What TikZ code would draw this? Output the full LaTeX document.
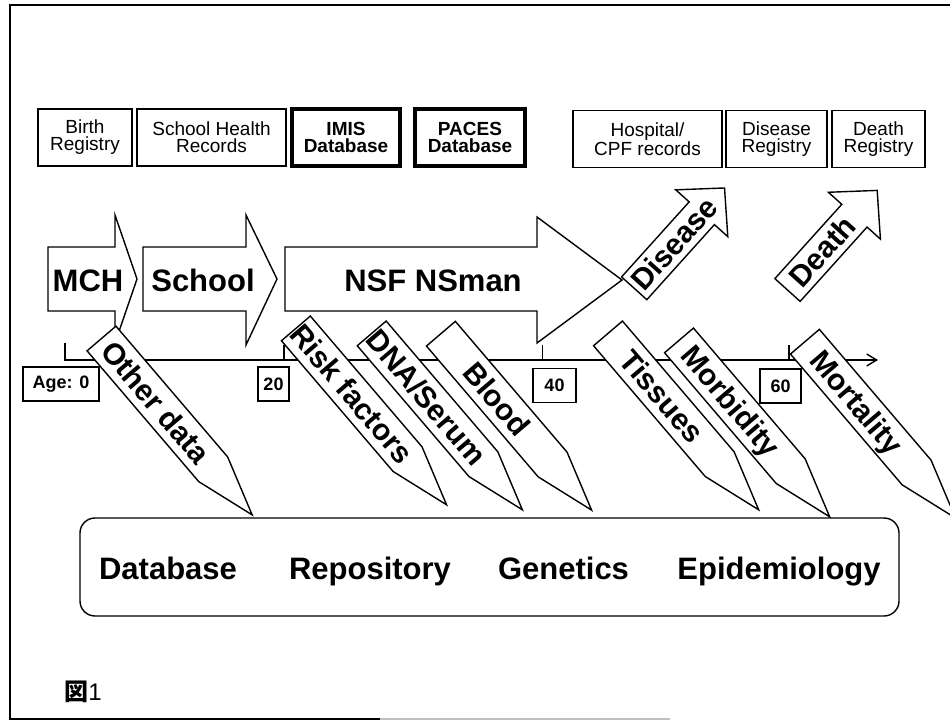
\documentclass[tikz,border=0pt]{standalone}
\usepackage{fontspec}
\setmainfont{Liberation Sans}
\newfontfamily\cjk{Noto Sans CJK JP}
\usetikzlibrary{arrows.meta}

\tikzset{
  srcbox/.style={draw,line width=1.3pt,fill=white,inner sep=0pt,align=center,minimum height=57,font=\fontsize{19}{17}\selectfont},
  dbbox/.style={srcbox,line width=3.2pt,font=\bfseries\fontsize{19}{17}\selectfont},
  agebox/.style={draw,line width=1.3pt,fill=white,inner sep=0pt,minimum height=34,font=\bfseries\fontsize{18}{18}\selectfont},
  bigarrow/.style={draw,fill=white,line width=1.4pt,line join=miter},
  bigtext/.style={inner sep=0pt,anchor=base,font=\bfseries\fontsize{31}{31}\selectfont},
  slanttext/.style={inner sep=0pt,text height=21pt,text depth=0pt,font=\bfseries\fontsize{30}{30}\selectfont},
}

\begin{document}
\begin{tikzpicture}[x=1pt,y=-1pt,line width=1.4pt]
\path[use as bounding box] (0,0) rectangle (950,722);
% frame
\draw[line width=2.6pt] (950,5) -- (10,5) -- (10,719) -- (380,719);
\draw[line width=2.6pt,gray!50] (380,719) -- (670,719);
% record sources
\node[srcbox,minimum width=94] (birth) at (85,137.5) {Birth\\Registry};
\node[srcbox,minimum width=149] (schoolrec) at (211.5,137.5) {School Health\\Records};
\node[dbbox,minimum width=108] (imis) at (346,137.5) {IMIS\\Database};
\node[dbbox,minimum width=110] (paces) at (470,137.5) {PACES\\Database};
\node[srcbox,minimum width=149] (hospital) at (647.5,139) {Hospital/\\CPF records};
\node[srcbox,minimum width=101] (disreg) at (776.5,139) {Disease\\Registry};
\node[srcbox,minimum width=93] (deathreg) at (878.5,139) {Death\\Registry};
% age axis
\coordinate (age0) at (65,360);
\coordinate (age20) at (284,360);
\coordinate (age40) at (542.5,360);
\coordinate (age60) at (789,360);
\coordinate (axisend) at (878,360);
\draw[-{Straight Barb[length=10pt,width=12pt]}] (age0) ++(0,-17) -- (age0) -- (axisend);
\draw (age20) -- ++(0,-15);
\draw (age40) -- ++(0,-15);
\draw (age60) -- ++(0,-15);
% life stages
\draw[bigarrow] (48,247) -- (115,247) -- (115,215) -- (137,279) -- (115,343) -- (115,311) -- (48,311) -- cycle;
\node[bigtext] (mch) at (88,291) {MCH};
\draw[bigarrow] (143,247) -- (246,247) -- (246,215) -- (277,279) -- (246,345) -- (246,311) -- (143,311) -- cycle;
\node[bigtext] (school) at (203,291) {School};
\draw[bigarrow] (285,247) -- (537,247) -- (537,217) -- (622,280) -- (537,343) -- (537,311) -- (285,311) -- cycle;
\node[bigtext] (nsf) at (433,291) {NSF NSman};
% outcomes
\draw[bigarrow,shift={(634.2,288.3)},rotate=48] (0,-17) -- (101,-17) -- (101,-35) -- (135,0) -- (101,35) -- (101,17) -- (0,17) -- cycle
  (60,0) node[slanttext,rotate=48] (disease) {Disease};
\draw[bigarrow,shift={(787.5,290)},rotate=48] (0,-17) -- (100,-17) -- (100,-35) -- (134,0) -- (100,35) -- (100,17) -- (0,17) -- cycle
  (52,0) node[slanttext,rotate=48] (death) {Death};
% data collected
\draw[bigarrow,shift={(101.5,338.5)},rotate=-49.5] (0,-19) -- (172,-19) -- (232,0) -- (172,19) -- (0,19) -- cycle
  (84,0) node[slanttext,rotate=-49.5] (otherdata) {Other data};
\draw[bigarrow,shift={(295.9,328.4)},rotate=-49.5] (0,-19) -- (172,-19) -- (232,0) -- (172,19) -- (0,19) -- cycle
  (86,0) node[slanttext,rotate=-49.5] (risk) {Risk factors};
\draw[bigarrow,shift={(371.7,333.4)},rotate=-49.5] (0,-19) -- (172,-19) -- (232,0) -- (172,19) -- (0,19) -- cycle
  (84,0) node[slanttext,rotate=-49.5] (dna) {DNA/Serum};
\draw[bigarrow,shift={(440.9,333.7)},rotate=-49.5] (0,-19) -- (172,-19) -- (232,0) -- (172,19) -- (0,19) -- cycle
  (86,0) node[slanttext,rotate=-49.5] (blood) {Blood};
\draw[bigarrow,shift={(608,333.4)},rotate=-49.5] (0,-19) -- (172,-19) -- (232,0) -- (172,19) -- (0,19) -- cycle
  (83,0) node[slanttext,rotate=-49.5] (tissues) {Tissues};
\draw[bigarrow,shift={(679,340.4)},rotate=-49.5] (0,-19) -- (172,-19) -- (232,0) -- (172,19) -- (0,19) -- cycle
  (80,0) node[slanttext,rotate=-49.5] (morbidity) {Morbidity};
\draw[bigarrow,shift={(804.9,341.7)},rotate=-49.5] (0,-19) -- (172,-19) -- (232,0) -- (172,19) -- (0,19) -- cycle
  (80,0) node[slanttext,rotate=-49.5] (mortality) {Mortality};
% ages
\node[agebox,minimum width=76] (agezero) at (61,384) {Age: 0};
\node[agebox,minimum width=31] (agetwenty) at (273.5,384) {20};
\node[agebox,minimum width=43] (ageforty) at (554.5,385.5) {40};
\node[agebox,minimum width=41] (agesixty) at (780.5,386) {60};
% fields
\node[draw,rounded corners=15pt,line width=1.4pt,minimum width=819,minimum height=98] (fields) at (489.5,567) {};
\node[bigtext] (database) at (168,579) {Database};
\node[bigtext] (repository) at (370,579) {Repository};
\node[bigtext] (genetics) at (563.5,579) {Genetics};
\node[bigtext] (epidemiology) at (779,579) {Epidemiology};
\node[inner sep=0pt,font=\fontsize{24}{24}\selectfont] (fig) at (83,692) {{\cjk\bfseries 図}1};
\end{tikzpicture}
\end{document}
